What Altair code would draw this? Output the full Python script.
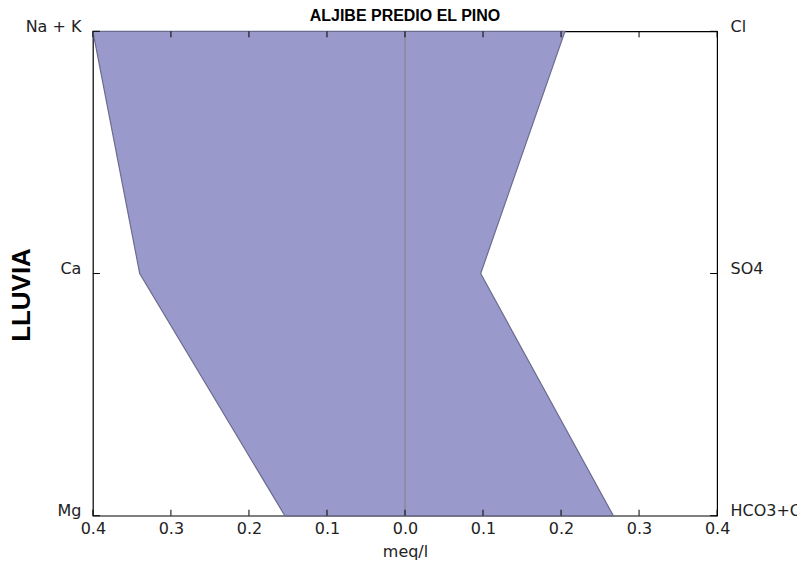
import altair as alt
import pandas as pd

cations = ["Na + K", "Ca", "Mg"]
anions = ["Cl", "SO4", "HCO3+CO3"]
levels = [2, 1, 0]
cation_vals = [0.400, 0.340, 0.154]
anion_vals = [0.205, 0.097, 0.267]
x_ticks = [-0.4, -0.3, -0.2, -0.1, 0.0, 0.1, 0.2, 0.3, 0.4]

W, H = 625, 485

df = pd.DataFrame({
    "level": levels,
    "cation": cations,
    "anion": anions,
    "left": [-v for v in cation_vals],
    "right": anion_vals,
})
ticks_df = pd.DataFrame({"t": x_ticks})
ylev_df = pd.DataFrame({"level": levels})

xscale = alt.Scale(domain=[-0.4, 0.4], nice=False, zero=False)
yscale = alt.Scale(domain=[0, 2], nice=False, zero=False)

left_expr = "datum.value == 2 ? 'Na + K' : datum.value == 1 ? 'Ca' : 'Mg'"
right_expr = "datum.value == 2 ? 'Cl' : datum.value == 1 ? 'SO4' : 'HCO3+CO3'"

area = alt.Chart(df).mark_area(
    orient="horizontal", color="#9999cb", stroke="#6b6b8f", strokeWidth=1.2, opacity=1
).encode(
    y=alt.Y("level:Q", scale=yscale,
            axis=alt.Axis(values=[0, 1, 2], labelExpr=left_expr, ticks=False, grid=False,
                          domain=False, labelPadding=12, labelFontSize=16,
                          labelFont="DejaVu Sans", labelColor="#222222",
                          labelBaseline="alphabetic", labelFlush=False,
                          title="LLUVIA", titleFont="Liberation Sans", titleFontSize=26,
                          titleFontWeight="bold", titleColor="#000000",
                          titleX=-71, titleY=H / 2 + 21, titleAlign="center",
                          titleBaseline="middle", titleAngle=270)),
    x=alt.X("left:Q", scale=xscale,
            axis=alt.Axis(values=x_ticks, labelExpr="format(abs(datum.value), '.1f')",
                          ticks=False, grid=False, domain=False, labelPadding=5,
                          labelFlush=False,
                          labelFontSize=16, labelFont="DejaVu Sans", labelColor="#222222",
                          title="meq/l", titleFont="DejaVu Sans", titleFontSize=16,
                          titleFontWeight="normal", titleColor="#222222", titlePadding=7)),
    x2="right:Q",
)

center = alt.Chart(pd.DataFrame({"z": [0.0]})).mark_rule(color="#808080", strokeWidth=1).encode(
    x=alt.X("z:Q", scale=xscale, axis=None),
)

right_axis = alt.Chart(ylev_df).mark_point(opacity=0).encode(
    y=alt.Y("level:Q", scale=yscale,
            axis=alt.Axis(orient="right", values=[0, 1, 2], labelExpr=right_expr,
                          ticks=False, grid=False, domain=False, labelPadding=13,
                          labelBaseline="alphabetic", labelFlush=False,
                          labelFontSize=16, labelFont="DejaVu Sans", labelColor="#222222",
                          title=None)),
)

bottom_ticks = alt.Chart(ticks_df).mark_rule(color="#000000", strokeWidth=1).encode(
    x=alt.X("t:Q", scale=xscale, axis=None),
    y=alt.value(H), y2=alt.value(H - 6),
)
top_ticks = alt.Chart(ticks_df).mark_rule(color="#000000", strokeWidth=1).encode(
    x=alt.X("t:Q", scale=xscale, axis=None),
    y=alt.value(0), y2=alt.value(6),
)
left_ticks = alt.Chart(ylev_df).mark_rule(color="#000000", strokeWidth=1).encode(
    y=alt.Y("level:Q", scale=yscale, axis=None),
    x=alt.value(0), x2=alt.value(7),
)
right_ticks = alt.Chart(ylev_df).mark_rule(color="#000000", strokeWidth=1).encode(
    y=alt.Y("level:Q", scale=yscale, axis=None),
    x=alt.value(W), x2=alt.value(W - 7),
)

chart = alt.layer(
    area, center, right_axis, bottom_ticks, top_ticks, left_ticks, right_ticks
).resolve_axis(y="independent", x="independent").properties(
    width=W, height=H,
    title=alt.TitleParams("ALJIBE PREDIO EL PINO", font="Liberation Sans", fontSize=16,
                          fontWeight="bold", color="#000000", offset=-6, anchor="middle"),
    autosize=alt.AutoSizeParams(type="none"),
    padding={"left": 85, "top": 23, "right": 80, "bottom": 54},
).configure(background="white").configure_view(stroke="#000000", strokeWidth=1.2)

chart.save("out.html", embed_options={"renderer": "svg", "actions": False})
